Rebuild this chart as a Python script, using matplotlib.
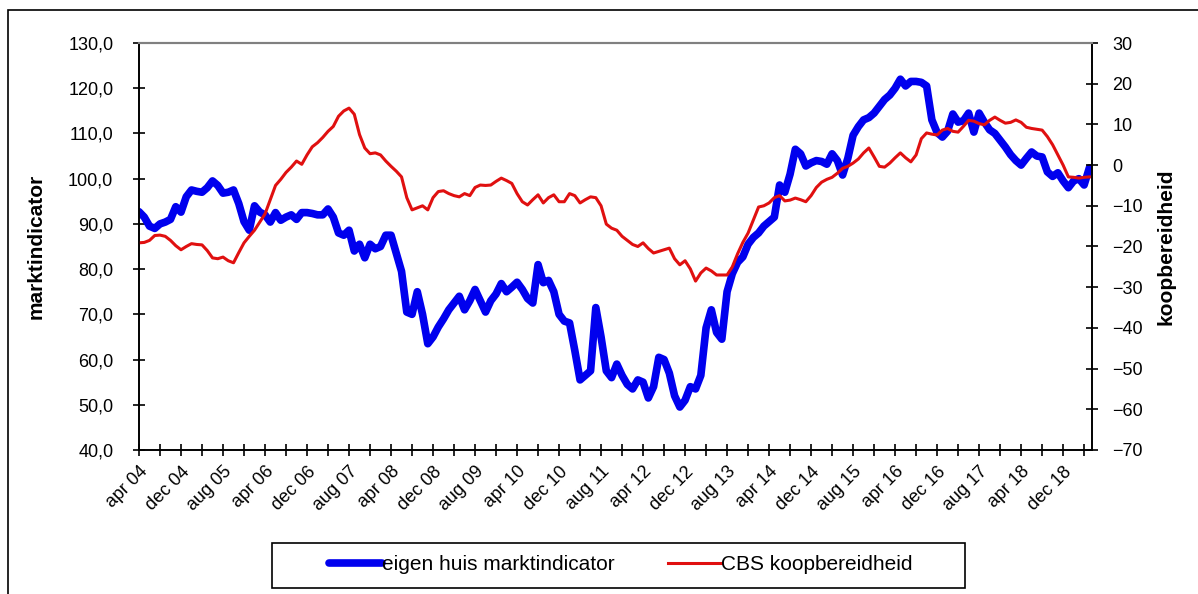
import numpy as np
import matplotlib.pyplot as plt
from matplotlib.patches import Rectangle

plt.rcParams['font.family'] = ['Liberation Sans', 'DejaVu Sans']

# monthly values, apr 2004 .. may 2019
markt = [
    92.7, 91.5, 89.5, 89.0, 90.0, 90.4, 91.0, 93.8, 92.6, 96.0,
    97.5, 97.2, 97.0, 98.0, 99.5, 98.5, 96.8, 97.0, 97.5, 94.5,
    90.5, 88.6, 94.0, 92.6, 92.0, 90.4, 92.5, 90.8, 91.5, 92.0,
    91.0, 92.5, 92.5, 92.3, 92.0, 92.0, 93.3, 91.5, 88.0, 87.5,
    88.6, 84.0, 85.5, 82.5, 85.5, 84.5, 85.0, 87.5, 87.5, 83.5,
    79.5, 70.5, 70.0, 75.0, 70.0, 63.5, 65.0, 67.2, 69.0, 71.0,
    72.5, 74.0, 71.0, 73.0, 75.5, 73.0, 70.5, 73.0, 74.5, 76.8,
    75.0, 76.0, 77.1, 75.5, 73.5, 72.5, 81.0, 77.0, 77.5, 75.0,
    70.0, 68.5, 68.1, 62.0, 55.5, 56.5, 57.5, 71.5, 65.0, 57.5,
    56.0, 59.0, 56.5, 54.5, 53.5, 55.5, 55.0, 51.5, 54.0, 60.5,
    60.0, 57.0, 52.0, 49.5, 51.0, 54.0, 53.5, 56.5, 67.0, 71.0,
    66.0, 64.5, 75.0, 79.0, 81.5, 82.7, 85.5, 87.0, 88.0, 89.5,
    90.5, 91.5, 98.6, 97.0, 101.0, 106.5, 105.5, 102.8, 103.5, 104.0,
    103.8, 103.2, 105.5, 104.0, 100.8, 104.5, 109.6, 111.5, 113.0, 113.5,
    114.5, 116.0, 117.5, 118.5, 120.0, 122.0, 120.5, 121.5, 121.5, 121.3,
    120.5, 113.0, 110.2, 109.2, 110.5, 114.3, 112.5, 112.8, 114.5, 110.3,
    114.5, 112.5, 110.8, 110.0, 108.5, 107.0, 105.3, 104.0, 103.0, 104.5,
    105.9, 105.0, 104.8, 101.5, 100.5, 101.3, 99.5, 98.0, 99.5, 100.0,
    98.6, 102.4,
]

koop = [
    -19.1, -19.0, -18.5, -17.3, -17.2, -17.5, -18.5, -19.8, -20.8, -20.0,
    -19.3, -19.5, -19.6, -21.0, -22.8, -23.0, -22.6, -23.5, -24.0, -21.5,
    -19.1, -17.5, -16.0, -14.0, -12.0, -8.5, -5.0, -3.5, -1.8, -0.5,
    1.0, 0.2, 2.5, 4.5, 5.5, 6.8, 8.3, 9.5, 12.0, 13.3,
    14.0, 12.5, 7.5, 4.2, 2.8, 3.0, 2.5, 1.0, -0.3, -1.5,
    -2.9, -8.0, -11.0, -10.5, -10.0, -11.0, -8.0, -6.5, -6.3, -7.0,
    -7.5, -7.8, -7.0, -7.5, -5.5, -4.9, -5.0, -4.9, -4.0, -3.2,
    -3.8, -4.5, -7.0, -9.0, -9.8, -8.5, -7.3, -9.3, -8.0, -7.3,
    -9.0, -9.0, -7.0, -7.5, -9.3, -8.5, -7.8, -8.0, -10.0, -14.5,
    -15.5, -16.0, -17.5, -18.5, -19.5, -20.0, -19.1, -20.5, -21.6, -21.2,
    -20.8, -20.4, -23.0, -24.5, -23.5, -25.5, -28.5, -26.5, -25.3, -26.0,
    -27.0, -27.0, -27.0, -25.0, -21.8, -19.0, -16.7, -13.5, -10.3, -10.0,
    -9.3, -8.0, -7.5, -8.8, -8.6, -8.1, -8.5, -9.0, -7.5, -5.5,
    -4.2, -3.5, -3.0, -2.0, -0.8, -0.3, 0.5, 1.5, 3.0, 4.2,
    2.0, -0.3, -0.5, 0.5, 1.8, 3.0, 1.8, 0.8, 2.5, 6.5,
    7.9, 7.6, 7.4, 8.6, 9.0, 8.3, 8.1, 9.5, 11.0, 10.8,
    10.2, 9.9, 11.0, 11.8, 11.0, 10.3, 10.5, 11.1, 10.5, 9.3,
    9.0, 8.8, 8.6, 7.0, 5.0, 2.5, 0.0, -2.9, -3.0, -3.2,
    -3.0, -2.9,
]

tick_labels = ['apr 04', 'dec 04', 'aug 05', 'apr 06', 'dec 06', 'aug 07',
               'apr 08', 'dec 08', 'aug 09', 'apr 10', 'dec 10', 'aug 11',
               'apr 12', 'dec 12', 'aug 13', 'apr 14', 'dec 14', 'aug 15',
               'apr 16', 'dec 16', 'aug 17', 'apr 18', 'dec 18']

x = np.arange(len(markt))

fig = plt.figure(figsize=(11.98, 5.94), dpi=100)
# outer frame
fig.patches.append(Rectangle((8 / 1198, -0.02), 1.2, (594 - 10) / 594 + 0.02,
                             transform=fig.transFigure, fill=False,
                             edgecolor='black', linewidth=1.2))
# legend frame
fig.patches.append(Rectangle((272 / 1198, (594 - 588) / 594), 693 / 1198, 45 / 594,
                             transform=fig.transFigure, fill=False,
                             edgecolor='black', linewidth=1.2))

ax = fig.add_axes([139 / 1198, (594 - 450) / 594, 953 / 1198, 407 / 594])
ax2 = ax.twinx()

l1, = ax.plot(x, markt, color='#0000EE', linewidth=5.5,
              solid_joinstyle='round', solid_capstyle='round',
              label='eigen huis marktindicator')
l2, = ax2.plot(x, koop, color='#E01010', linewidth=2.2,
               solid_joinstyle='round', label='CBS koopbereidheid')

ax.set_xlim(0, len(markt) - 0.5)
ax.set_ylim(40, 130)
ax2.set_ylim(-70, 30)

ax.set_yticks(np.arange(40, 131, 10))
ax.set_yticklabels([f'{v:.1f}'.replace('.', ',') for v in np.arange(40, 131, 10)])
ax2.set_yticks(np.arange(-70, 31, 10))

ax.set_xticks(np.arange(0, len(markt), 4), minor=True)
ax.set_xticks(np.arange(0, len(tick_labels) * 8, 8))
ax.set_xticklabels(tick_labels, rotation=45, ha='right', rotation_mode='anchor')

for a in (ax, ax2):
    a.tick_params(axis='both', which='both', direction='inout', length=9,
                  width=1.2, labelsize=13, colors='black')
    a.spines['top'].set_color('#808080')
    a.spines['top'].set_linewidth(1.5)
    for s in ('left', 'right', 'bottom'):
        a.spines[s].set_linewidth(1.2)
ax.tick_params(axis='x', which='both', pad=5)
ax.tick_params(axis='y', pad=14)
ax2.tick_params(axis='y', pad=10)

ax.set_ylabel('marktindicator', fontsize=15, fontweight='bold', labelpad=16)
ax2.set_ylabel('koopbereidheid', fontsize=15, fontweight='bold', labelpad=10)

leg = fig.legend(handles=[l1, l2], loc='center', ncol=2,
                 bbox_to_anchor=(621 / 1198, (594 - 565) / 594),
                 fontsize=15, frameon=False,
                 handlelength=2.55, handletextpad=0.0, columnspacing=2.55)

fig.savefig('out.png', dpi=100)
